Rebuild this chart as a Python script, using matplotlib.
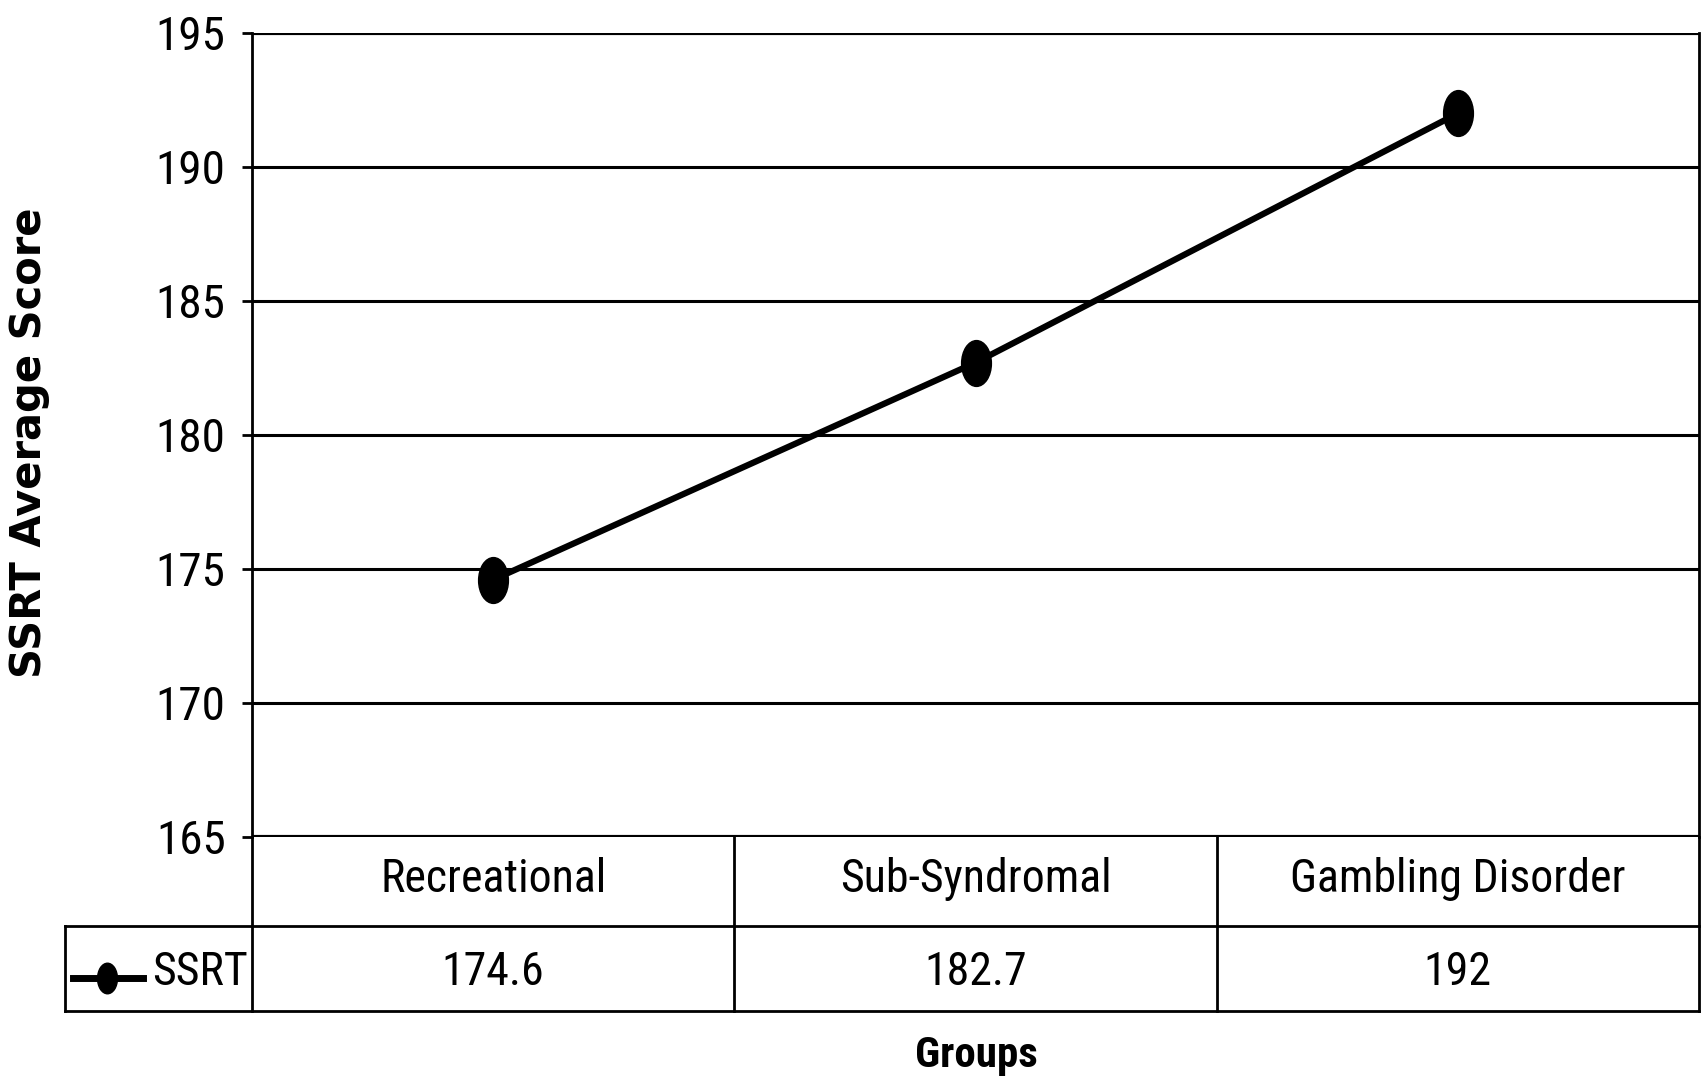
import matplotlib
matplotlib.use("Agg")
import matplotlib.pyplot as plt
from matplotlib import font_manager
from matplotlib.path import Path
from matplotlib.transforms import Affine2D
from matplotlib.lines import Line2D

groups = ["Recreational", "Sub-Syndromal", "Gambling Disorder"]
ssrt = [174.6, 182.7, 192]
value_labels = ["174.6", "182.7", "192"]
y_ticks = [165, 170, 175, 180, 185, 190, 195]
series_name = "SSRT"


def pick_narrow_font(bold=False):
    # the original uses an Arial Narrow look; take a condensed face if one is installed
    preferred = ["Liberation Sans Narrow", "Roboto Condensed", "Open Sans Condensed",
                 "Noto Sans Condensed", "DejaVu Sans Condensed"]
    weights = (700, "bold") if bold else (400, "normal", "regular")
    entries = font_manager.fontManager.ttflist
    for name in preferred:
        for f in entries:
            if f.name == name and f.style == "normal" and f.weight in weights:
                return f.fname
    for f in entries:
        if (f.stretch in ("condensed", "semi-condensed", "extra-condensed")
                and f.style == "normal" and f.weight in weights):
            return f.fname
    return None


narrow_file = pick_narrow_font()
narrow_bold_file = pick_narrow_font(bold=True)
if narrow_file:
    narrow = dict(fname=narrow_file)
    tick_size, cell_size = 34, 33
else:
    narrow = dict(family=["Liberation Sans", "DejaVu Sans"])
    tick_size, cell_size = 29, 30


def nfont(size):
    return font_manager.FontProperties(size=size, **narrow)


if narrow_bold_file:
    groups_font = font_manager.FontProperties(fname=narrow_bold_file, size=31)
else:
    groups_font = font_manager.FontProperties(family=["Liberation Sans", "DejaVu Sans"],
                                              weight="bold", size=27)

# tall ellipse marker like the original
ellipse = Path.unit_circle().transformed(Affine2D().scale(0.65, 1.0))

fig = plt.figure(figsize=(17.05, 10.81), dpi=100)
ax = fig.add_axes([252 / 1705, 1 - 837 / 1081, 1447 / 1705, 804 / 1081])

x = list(range(len(groups)))
ax.plot(x, ssrt, color="black", lw=4.5, marker=ellipse, markersize=33,
        zorder=3, clip_on=False)

ax.set_xlim(-0.5, len(groups) - 0.5)
ax.set_ylim(165, 195)
ax.set_yticks(y_ticks)
ax.set_yticklabels([str(t) for t in y_ticks], fontproperties=nfont(tick_size))
ax.tick_params(axis="y", length=7, width=2, pad=12)
ax.set_xticks([])
for t in y_ticks:
    ax.axhline(t, color="black", lw=2.2 if t not in (165, 195) else 3, zorder=1)
for side in ["top", "bottom"]:
    ax.spines[side].set_visible(False)
ax.spines["left"].set_linewidth(2)
ax.spines["right"].set_linewidth(2)

# data table under the plot (y in axes fraction)
tr = ax.get_xaxis_transform()
row_mid = -89 / 804
row_bot = -174 / 804
tab_left = -0.5 - 187 / 1447 * 3
lines = [
    ([-0.5, -0.5], [0, row_bot]),
    ([2.5, 2.5], [0, row_bot]),
    ([0.5, 0.5], [0, row_bot]),
    ([1.5, 1.5], [0, row_bot]),
    ([tab_left, tab_left], [row_mid, row_bot]),
    ([tab_left, 2.5], [row_mid, row_mid]),
    ([tab_left, 2.5], [row_bot, row_bot]),
]
for xs, ys in lines:
    ax.add_line(Line2D(xs, ys, transform=tr, color="black", lw=2, clip_on=False))

for i, g in enumerate(groups):
    ax.text(i, -42 / 804, g, transform=tr, ha="center", va="center",
            fontproperties=nfont(cell_size))
    ax.text(i, -135 / 804, value_labels[i], transform=tr, ha="center", va="center",
            fontproperties=nfont(cell_size))

# legend key inside the table
key_y = -141 / 804
ax.add_line(Line2D([-0.5 - 179 / 1447 * 3, -0.5 - 109 / 1447 * 3], [key_y, key_y],
                   transform=tr, color="black", lw=5, clip_on=False))
ax.plot([-0.5 - 145 / 1447 * 3], [key_y], transform=tr, marker=ellipse,
        markersize=22, color="black", clip_on=False)
ax.text(-0.5 - 100 / 1447 * 3, -135 / 804, series_name, transform=tr, ha="left",
        va="center", fontproperties=nfont(cell_size))

fig.text(29 / 1705, 1 - 443 / 1081, "SSRT Average Score", rotation=90,
         ha="center", va="center", family=["DejaVu Sans"], fontweight="bold",
         fontsize=30)
fig.text(976 / 1705, 1 - 1055 / 1081, "Groups", ha="center", va="center",
         fontproperties=groups_font)

fig.savefig("out.png", dpi=100)
